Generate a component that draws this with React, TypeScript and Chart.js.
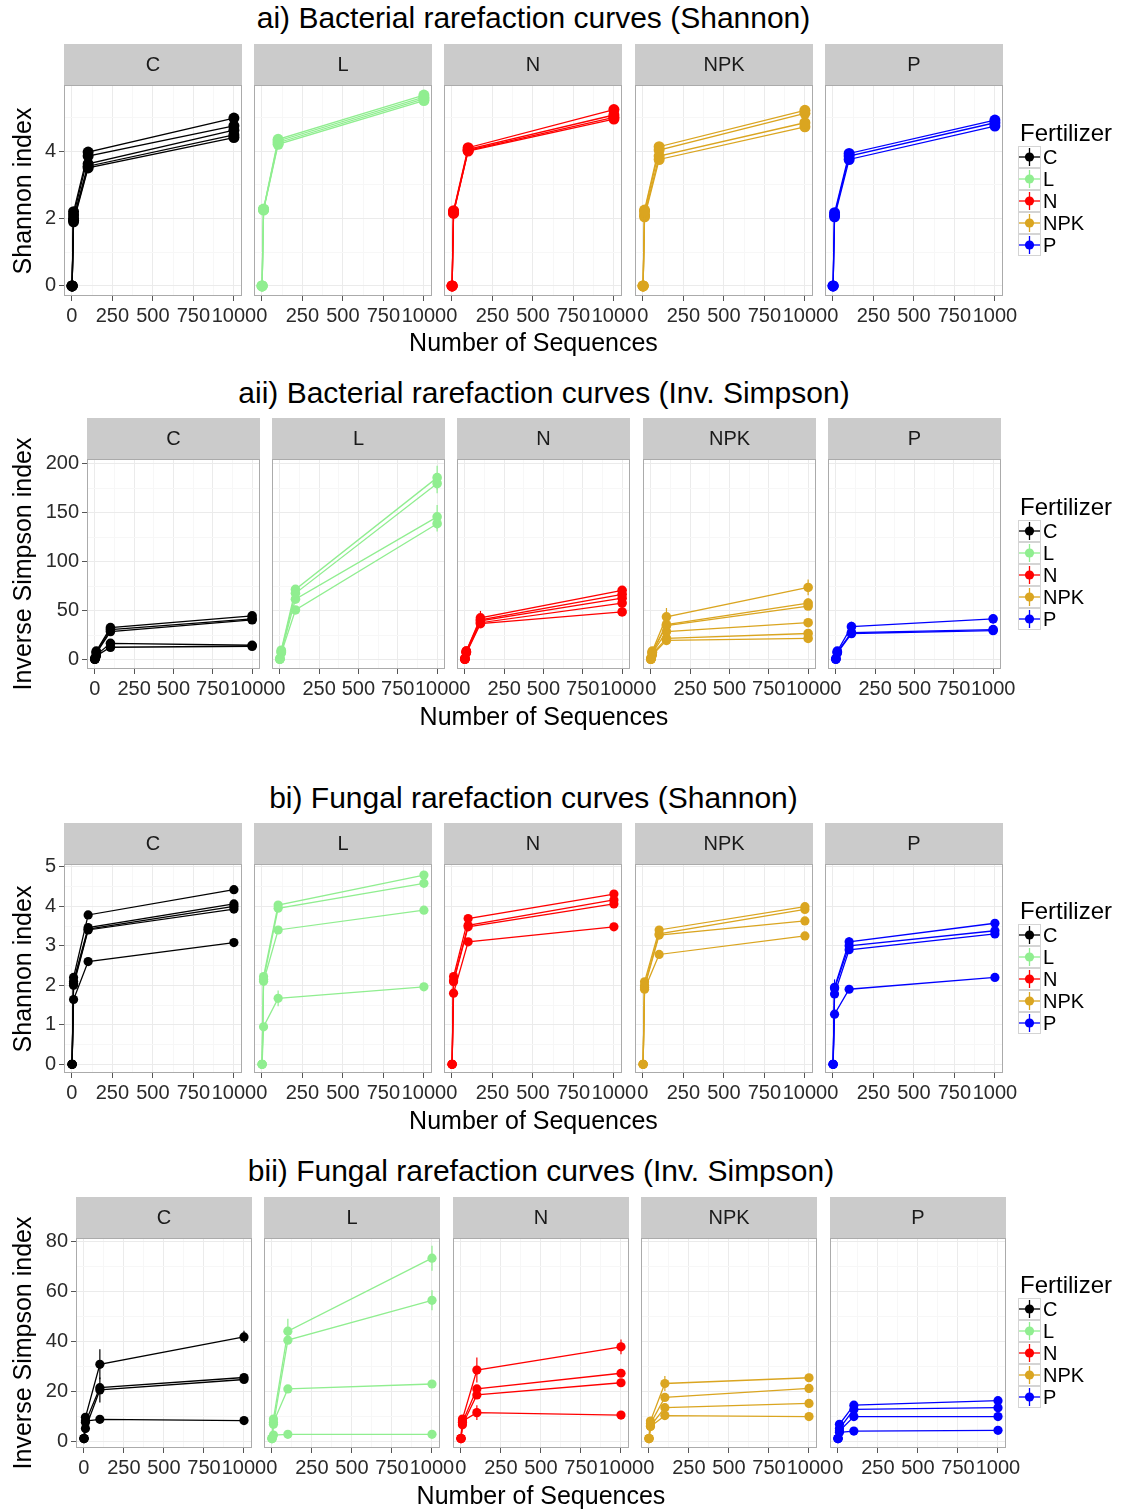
import React, { useEffect, useRef } from 'react';
import { Chart, registerables } from 'chart.js';

Chart.register(...registerables);

const FONT = '"Liberation Sans", Arial, Helvetica, sans-serif';

// ---------- categories / axes ----------
const fertilizers = ['C', 'L', 'N', 'NPK', 'P'];
const fertColors = ['#000000', '#90EE90', '#FF0000', '#DAA520', '#0000FF'];
const depths = [1, 10, 100, 1000];
const xMajorTicks = [0, 250, 500, 750, 1000];

// ---------- ai) Bacterial Shannon ----------
const aiYTicks = [0, 2, 4];
const aiC = [[0, 2.2, 3.97, 4.98], [0, 2.1, 3.85, 4.75], [0, 2.0, 3.62, 4.62], [0, 1.95, 3.55, 4.48], [0, 1.9, 3.5, 4.4]];
const aiL = [[0, 2.28, 4.35, 5.66], [0, 2.27, 4.3, 5.6], [0, 2.26, 4.25, 5.55], [0, 2.25, 4.2, 5.5]];
const aiN = [[0, 2.23, 4.1, 5.23], [0, 2.2, 4.05, 5.07], [0, 2.15, 4.02, 5.0], [0, 2.18, 4.0, 4.95]];
const aiNPK = [[0, 2.25, 4.13, 5.21], [0, 2.2, 4.03, 5.12], [0, 2.1, 3.85, 4.84], [0, 2.05, 3.75, 4.72]];
const aiP = [[0, 2.17, 3.93, 4.92], [0, 2.1, 3.85, 4.84], [0, 2.05, 3.75, 4.74]];

// ---------- aii) Bacterial Inverse Simpson ----------
const aiiYTicks = [0, 50, 100, 150, 200];
const aiiC = [[1, 9, 33, 45], [1, 8, 31, 42], [1, 7, 29, 41], [1, 5, 17, 15], [1, 4, 13, 14]];
const aiiL = [[1, 10, 72, 186], [1, 9, 68, 180], [1, 8, 62, 146], [1, 7, 51, 139]];
const aiiN = [[1, 9, 43, 71], [1, 9, 41, 67], [1, 8, 40, 63], [1, 8, 38, 58], [1, 7, 37, 49]];
const aiiNPK = [[1, 9, 44, 74], [1, 8, 36, 58], [1, 8, 35, 55], [1, 7, 29, 38], [1, 6, 22, 27], [1, 5, 20, 22]];
const aiiP = [[1, 9, 34, 42], [1, 8, 28, 31], [1, 7, 27, 30]];
const aiiLErr = [[0, 0, 0, 12], [0, 0, 0, 10], [0, 0, 0, 12], [0, 0, 0, 8]];
const aiiNErr = [[0, 0, 7, 0], [0, 0, 0, 0], [0, 0, 0, 0], [0, 0, 0, 0], [0, 0, 0, 0]];
const aiiNPKErr = [[0, 0, 9, 8], [0, 0, 0, 5], [0, 0, 0, 0], [0, 0, 0, 0], [0, 0, 0, 0], [0, 0, 0, 0]];
const aiiPErr = [[0, 0, 5, 5], [0, 0, 0, 0], [0, 0, 0, 0]];

// ---------- bi) Fungal Shannon ----------
const biYTicks = [0, 1, 2, 3, 4, 5];
const biC = [[0, 2.2, 3.78, 4.42], [0, 2.1, 3.46, 4.06], [0, 2.05, 3.42, 4.0], [0, 2.0, 3.4, 3.93], [0, 1.64, 2.6, 3.08]];
const biL = [[0, 2.22, 4.03, 4.79], [0, 2.15, 3.95, 4.58], [0, 2.1, 3.4, 3.9], [0, 0.95, 1.67, 1.96]];
const biN = [[0, 2.22, 3.69, 4.31], [0, 2.12, 3.52, 4.16], [0, 2.09, 3.48, 4.06], [0, 1.8, 3.1, 3.48]];
const biNPK = [[0, 2.09, 3.4, 3.99], [0, 2.0, 3.3, 3.92], [0, 1.95, 3.27, 3.63], [0, 1.9, 2.78, 3.25]];
const biP = [[0, 1.95, 3.1, 3.57], [0, 1.92, 3.0, 3.38], [0, 1.78, 2.9, 3.3], [0, 1.27, 1.9, 2.2]];
const biLErr = [[0, 0, 0, 0], [0, 0, 0, 0], [0, 0, 0, 0], [0, 0, 0.2, 0]];
const biPErr = [[0, 0.2, 0.12, 0], [0, 0, 0, 0], [0, 0, 0, 0], [0, 0, 0, 0]];

// ---------- bii) Fungal Inverse Simpson ----------
const biiYTicks = [0, 20, 40, 60, 80];
const biiC = [[1, 9.5, 30.8, 41.8], [1, 7.5, 21.4, 25.5], [1, 5, 20.5, 24.7], [1, 8, 8.7, 8.2]];
const biiL = [[1, 8.8, 44.1, 73.4], [1, 6.7, 40.5, 56.5], [1, 7.5, 20.9, 22.9], [1, 2.4, 2.7, 2.7]];
const biiN = [[1, 8.8, 28.5, 37.8], [1, 7.5, 20.9, 27.2], [1, 6.5, 18.5, 23.4], [1, 8, 11.4, 10.4]];
const biiNPK = [[1, 8, 23.1, 25.4], [1, 7, 17.5, 21.1], [1, 6, 13.4, 15.1], [1, 5.8, 10.2, 9.8]];
const biiP = [[1, 6.7, 14.4, 16.2], [1, 5, 12.7, 13.4], [1, 4, 9.8, 9.8], [1, 3.5, 4, 4.3]];
const biiCErr = [[0, 0, 6, 2.5], [0, 0, 0, 0], [0, 0, 5, 0], [0, 0, 0, 0]];
const biiLErr = [[0, 0, 5, 5], [0, 0, 0, 4], [0, 0, 0, 0], [0, 0, 0, 0]];
const biiNErr = [[0, 0, 5, 3], [0, 0, 0, 0], [0, 0, 0, 0], [0, 0, 3, 0]];
const biiNPKErr = [[0, 0, 3, 0], [0, 0, 0, 0], [0, 0, 0, 0], [0, 0, 0, 0]];

// ---------- layout ----------
const GAP = 12;
const PADL = 60;
const PADR = 32;
const XH = 34;
const X_MIN = -49;
const X_MAX = 1050;

type Row = {
  title: string;
  yTitle: string;
  series: number[][][];
  errors: (number[][] | null)[];
  yTicks: number[];
  yMin: number;
  yMax: number;
  left0: number;
  panelW: number;
  stripTop: number;
  plotTop: number;
  plotBottom: number;
  titleY: number;
  xTitleY: number;
  legendTop: number;
  pointR: number;
};

const rows: Row[] = [
  {
    title: 'ai) Bacterial rarefaction curves (Shannon)', yTitle: 'Shannon index',
    series: [aiC, aiL, aiN, aiNPK, aiP], errors: [null, null, null, null, null],
    yTicks: aiYTicks, yMin: -0.3, yMax: 5.96,
    left0: 64, panelW: 178.2, stripTop: 44, plotTop: 85, plotBottom: 296,
    titleY: 18, xTitleY: 342, legendTop: 120, pointR: 5.5,
  },
  {
    title: 'aii) Bacterial rarefaction curves (Inv. Simpson)', yTitle: 'Inverse Simpson index',
    series: [aiiC, aiiL, aiiN, aiiNPK, aiiP], errors: [null, aiiLErr, aiiNErr, aiiNPKErr, aiiPErr],
    yTicks: aiiYTicks, yMin: -9.2, yMax: 205,
    left0: 87, panelW: 173.2, stripTop: 418, plotTop: 459, plotBottom: 669,
    titleY: 393, xTitleY: 716, legendTop: 494, pointR: 4.8,
  },
  {
    title: 'bi) Fungal rarefaction curves (Shannon)', yTitle: 'Shannon index',
    series: [biC, biL, biN, biNPK, biP], errors: [null, biLErr, null, null, biPErr],
    yTicks: biYTicks, yMin: -0.22, yMax: 5.07,
    left0: 64, panelW: 178.2, stripTop: 823, plotTop: 864, plotBottom: 1073,
    titleY: 798, xTitleY: 1120, legendTop: 898, pointR: 4.6,
  },
  {
    title: 'bii) Fungal rarefaction curves (Inv. Simpson)', yTitle: 'Inverse Simpson index',
    series: [biiC, biiL, biiN, biiNPK, biiP], errors: [biiCErr, biiLErr, biiNErr, biiNPKErr, null],
    yTicks: biiYTicks, yMin: -2.8, yMax: 81.5,
    left0: 76, panelW: 176.4, stripTop: 1197, plotTop: 1238, plotBottom: 1448,
    titleY: 1171, xTitleY: 1495, legendTop: 1272, pointR: 4.6,
  },
];

function minorsOf(majors: number[], min: number, max: number): number[] {
  const step = majors[1] - majors[0];
  const out: number[] = [];
  for (let v = majors[0] - step / 2; v <= majors[majors.length - 1] + step / 2 + 1e-9; v += step) {
    if (v > min && v < max) out.push(v);
  }
  return out;
}

function Facet({ row, idx }: { row: Row; idx: number }) {
  const ref = useRef<HTMLCanvasElement>(null);
  const panelL = row.left0 + idx * (row.panelW + GAP);
  const canvasLeft = Math.round(panelL - PADL);
  const W = Math.round(PADL + row.panelW + PADR);
  const H = row.plotBottom - row.stripTop + XH;

  useEffect(() => {
    const canvas = ref.current;
    if (!canvas) return;
    const color = fertColors[idx];
    const series = row.series[idx];
    const errs = row.errors[idx];
    const first = idx === 0;

    const yMinor = minorsOf(row.yTicks, row.yMin, row.yMax);
    const xMinor = minorsOf(xMajorTicks, X_MIN, X_MAX);
    const yAll = [...row.yTicks, ...yMinor].sort((a, b) => a - b);
    const xAll = [...xMajorTicks, ...xMinor].sort((a, b) => a - b);
    const isMajX = (v: number) => xMajorTicks.some((m) => Math.abs(m - v) < 1e-6);
    const isMajY = (v: number) => row.yTicks.some((m) => Math.abs(m - v) < 1e-6);

    const panelPlugin = {
      id: 'facetPanel',
      beforeDraw(chart: any) {
        const { ctx, chartArea } = chart;
        ctx.save();
        ctx.fillStyle = '#ffffff';
        ctx.fillRect(chartArea.left, chartArea.top, chartArea.right - chartArea.left, chartArea.bottom - chartArea.top);
        ctx.fillStyle = '#cbcbcb';
        ctx.fillRect(chartArea.left, 0, chartArea.right - chartArea.left, chartArea.top);
        ctx.fillStyle = '#1a1a1a';
        ctx.font = `20px ${FONT}`;
        ctx.textAlign = 'center';
        ctx.textBaseline = 'middle';
        ctx.fillText(fertilizers[idx], (chartArea.left + chartArea.right) / 2, chartArea.top / 2 + 1);
        ctx.restore();
      },
      beforeDatasetsDraw(chart: any) {
        const { ctx, chartArea } = chart;
        ctx.save();
        ctx.strokeStyle = '#ababab';
        ctx.lineWidth = 1;
        ctx.strokeRect(chartArea.left + 0.5, chartArea.top + 0.5, chartArea.right - chartArea.left - 1, chartArea.bottom - chartArea.top - 1);
        // error bars
        if (errs) {
          const ys = chart.scales.y;
          const xs = chart.scales.x;
          ctx.strokeStyle = color;
          ctx.lineWidth = 1.2;
          errs.forEach((eRow, k) => {
            eRow.forEach((e, j) => {
              if (!e) return;
              const v = series[k][j];
              const px = xs.getPixelForValue(depths[j]);
              ctx.beginPath();
              ctx.moveTo(px, ys.getPixelForValue(v - e));
              ctx.lineTo(px, ys.getPixelForValue(v + e));
              ctx.stroke();
            });
          });
        }
        ctx.restore();
      },
    };

    const datasets = series.map((s) => ({
      data: depths.map((d, j) => ({ x: d, y: s[j] })),
      borderColor: color,
      backgroundColor: color,
      pointBackgroundColor: color,
      pointBorderColor: color,
      pointBorderWidth: 0,
      pointRadius: row.pointR,
      pointHoverRadius: row.pointR,
      borderWidth: 1.3,
      tension: 0,
      clip: false as any,
    }));

    const chart = new Chart(canvas, {
      type: 'line',
      data: { datasets },
      plugins: [panelPlugin],
      options: {
        animation: false,
        responsive: false,
        maintainAspectRatio: false,
        events: [],
        layout: { padding: { top: row.plotTop - row.stripTop, right: PADR, left: 0, bottom: 0 } },
        plugins: { legend: { display: false }, tooltip: { enabled: false }, title: { display: false } },
        scales: {
          x: {
            type: 'linear',
            min: X_MIN,
            max: X_MAX,
            afterBuildTicks: (scale: any) => {
              scale.ticks = xAll.map((v) => ({ value: v }));
            },
            afterFit: (scale: any) => {
              scale.height = XH;
            },
            border: { display: false },
            grid: {
              color: (c: any) => (isMajX(c.tick.value) ? '#ebebeb' : '#f7f7f7'),
              tickColor: (c: any) => (isMajX(c.tick.value) ? '#555555' : 'rgba(0,0,0,0)'),
              tickLength: 5,
              lineWidth: 1,
            },
            ticks: {
              autoSkip: false,
              maxRotation: 0,
              minRotation: 0,
              padding: 3,
              color: '#2a2a2a',
              font: { family: FONT, size: 20 },
              callback: (v: any) => (isMajX(Number(v)) ? String(v) : ''),
            },
          },
          y: {
            type: 'linear',
            min: row.yMin,
            max: row.yMax,
            afterBuildTicks: (scale: any) => {
              scale.ticks = yAll.map((v) => ({ value: v }));
            },
            afterFit: (scale: any) => {
              scale.width = PADL;
            },
            border: { display: false },
            grid: {
              color: (c: any) => (isMajY(c.tick.value) ? '#ebebeb' : '#f7f7f7'),
              tickColor: (c: any) => (first && isMajY(c.tick.value) ? '#555555' : 'rgba(0,0,0,0)'),
              tickLength: 5,
              lineWidth: 1,
            },
            ticks: {
              display: first,
              autoSkip: false,
              padding: 3,
              color: '#2a2a2a',
              font: { family: FONT, size: 20 },
              callback: (v: any) => (isMajY(Number(v)) ? String(v) : ''),
            },
          },
        },
      } as any,
    });
    return () => chart.destroy();
  }, [row, idx]);

  return (
    <canvas
      ref={ref}
      width={W}
      height={H}
      style={{ position: 'absolute', left: canvasLeft, top: row.stripTop, width: W, height: H }}
    />
  );
}

function Legend({ top }: { top: number }) {
  return (
    <div style={{ position: 'absolute', left: 1018, top }}>
      <div style={{ font: `24px ${FONT}`, lineHeight: '26px', height: 26, marginLeft: 2, color: '#000' }}>Fertilizer</div>
      {fertilizers.map((f, i) => {
        const c = fertColors[i];
        return (
          <div key={f} style={{ display: 'flex', alignItems: 'center', height: 22 }}>
            <svg width="23" height="22" style={{ display: 'block' }}>
              <rect x="0.5" y="0.5" width="22" height="21" fill="#ffffff" stroke="#d4d4d4" />
              <line x1="1" y1="11" x2="22" y2="11" stroke={c} strokeWidth="1.3" />
              <line x1="11.5" y1="2" x2="11.5" y2="20" stroke={c} strokeWidth="1.3" />
              <circle cx="11.5" cy="11" r="4.6" fill={c} />
            </svg>
            <span style={{ font: `20px ${FONT}`, lineHeight: '22px', marginLeft: 2, color: '#000' }}>{f}</span>
          </div>
        );
      })}
    </div>
  );
}

function RowBlock({ row }: { row: Row }) {
  const spanL = row.left0;
  const spanR = row.left0 + 5 * row.panelW + 4 * GAP;
  const cx = (spanL + spanR) / 2;
  const cyPlot = (row.plotTop + row.plotBottom) / 2;
  return (
    <>
      <div
        style={{
          position: 'absolute', left: cx - 400, width: 800, top: row.titleY - 18, height: 36,
          textAlign: 'center', font: `30px ${FONT}`, lineHeight: '36px', color: '#000', whiteSpace: 'nowrap',
        }}
      >
        {row.title}
      </div>
      {fertilizers.map((f, i) => (
        <Facet key={f} row={row} idx={i} />
      ))}
      <div
        style={{
          position: 'absolute', left: cx - 300, width: 600, top: row.xTitleY - 15, height: 30,
          textAlign: 'center', font: `25px ${FONT}`, lineHeight: '30px', color: '#000', whiteSpace: 'nowrap',
        }}
      >
        Number of Sequences
      </div>
      <div
        style={{
          position: 'absolute', left: 22 - 200, width: 400, top: cyPlot - 15, height: 30,
          textAlign: 'center', font: `25px ${FONT}`, lineHeight: '30px', color: '#000', whiteSpace: 'nowrap',
          transform: 'rotate(-90deg)',
        }}
      >
        {row.yTitle}
      </div>
      <Legend top={row.legendTop} />
    </>
  );
}

export default function App() {
  return (
    <div style={{ position: 'absolute', left: 0, top: 0, width: 1122, height: 1510, background: '#ffffff', overflow: 'hidden' }}>
      {rows.map((r) => (
        <RowBlock key={r.title} row={r} />
      ))}
    </div>
  );
}
